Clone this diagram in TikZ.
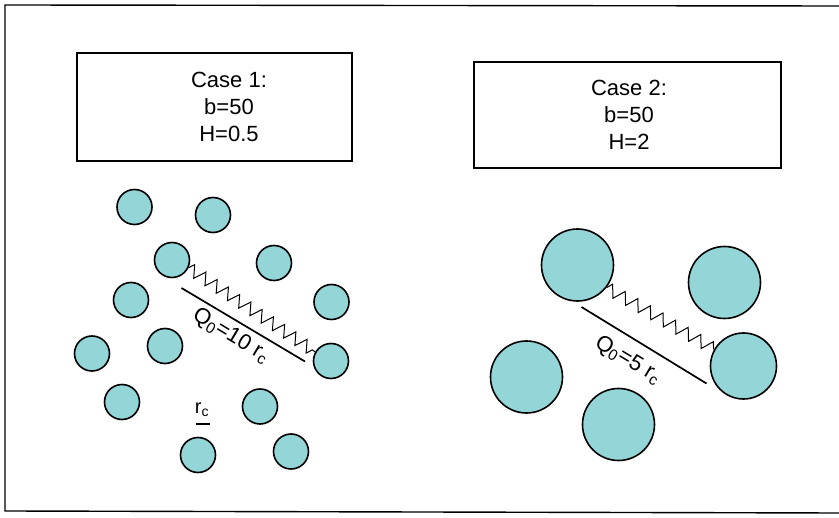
\documentclass[tikz,border=0pt]{standalone}
\usepackage{fontspec}
\setmainfont{Liberation Sans}
\usetikzlibrary{decorations.pathmorphing}
\definecolor{bead}{RGB}{148,214,216}
\newcommand\lowidx[1]{\textsubscript{#1}}
\begin{document}
\begin{tikzpicture}[x=1pt,y=-1pt,
  bead/.style={circle,draw=black,line width=1.6pt,fill=bead,inner sep=0pt,minimum size=#1},
  small/.style={bead=35pt},
  big/.style={bead=72pt},
  casebox/.style={draw=black,line width=1.4pt,inner sep=0pt},
  casetext/.style={align=center,font=\fontsize{22}{27}\selectfont},
  spring/.style={line width=1pt,decorate,decoration={zigzag,segment length=#1,amplitude=6pt}},
  sep/.style={line width=1.7pt},
  qlabel/.style={font=\fontsize{22}{26}\selectfont,rotate=-31,inner sep=0pt}]
\useasboundingbox (0,0) rectangle (839,518);
% outer frame (open on the right)
\draw[line width=1.4pt] (839,6) -- (5,5) -- (5,511) -- (839,513);

% parameter boxes
\node[casebox,minimum width=275pt,minimum height=108pt] (box1) at (214.5,107) {};
\node[casetext] (txt1) at (229,107) {Case 1:\\b=50\\H=0.5};
\node[casebox,minimum width=307pt,minimum height=106pt] (box2) at (627.5,115) {};
\node[casetext] (txt2) at (629,115) {Case 2:\\b=50\\H=2};

% case 1: small beads
\node[small] (a1)  at (134.5,207) {};
\node[small] (a2)  at (213,215) {};
\node[small] (a3)  at (172,260) {};
\node[small] (a4)  at (274,263) {};
\node[small] (a5)  at (131,300) {};
\node[small] (a6)  at (331.5,302) {};
\node[small] (a7)  at (165,346) {};
\node[small] (a8)  at (92,353.5) {};
\node[small] (a9)  at (331,361) {};
\node[small] (a10) at (122,402) {};
\node[small] (a11) at (260,406.5) {};
\node[small] (a12) at (198,455) {};
\node[small] (a13) at (291,451.5) {};

\draw[spring=13.5pt] (a3.-25) -- (a9.150);
\coordinate (l1s) at (181.5,288);
\coordinate (l1e) at (305,361.5);
\draw[sep] (l1s) -- (l1e);
\node[qlabel] (q1) at (231,336) {Q\lowidx{0}=10 r\lowidx{c}};

\node[font=\fontsize{20}{24}\selectfont,inner sep=0pt] (rc) at (202,410) {r\lowidx{c}};
\coordinate (u1) at (195.5,424);
\coordinate (u2) at (210,424);
\draw[line width=1.6pt] (u1) -- (u2);

% case 2: large beads
\node[big] (b1) at (577.5,265) {};
\node[big] (b2) at (724.5,282.5) {};
\node[bead=66pt] (b3) at (743.5,366) {};
\node[big] (b4) at (526.5,377) {};
\node[big] (b5) at (618.5,424.5) {};

\draw[spring=14.5pt] (b1.-38) -- (b3.150);
\coordinate (l2s) at (581.5,307);
\coordinate (l2e) at (706.5,383.5);
\draw[sep] (l2s) -- (l2e);
\node[qlabel] (q2) at (628,360) {Q\lowidx{0}=5 r\lowidx{c}};
\end{tikzpicture}
\end{document}
